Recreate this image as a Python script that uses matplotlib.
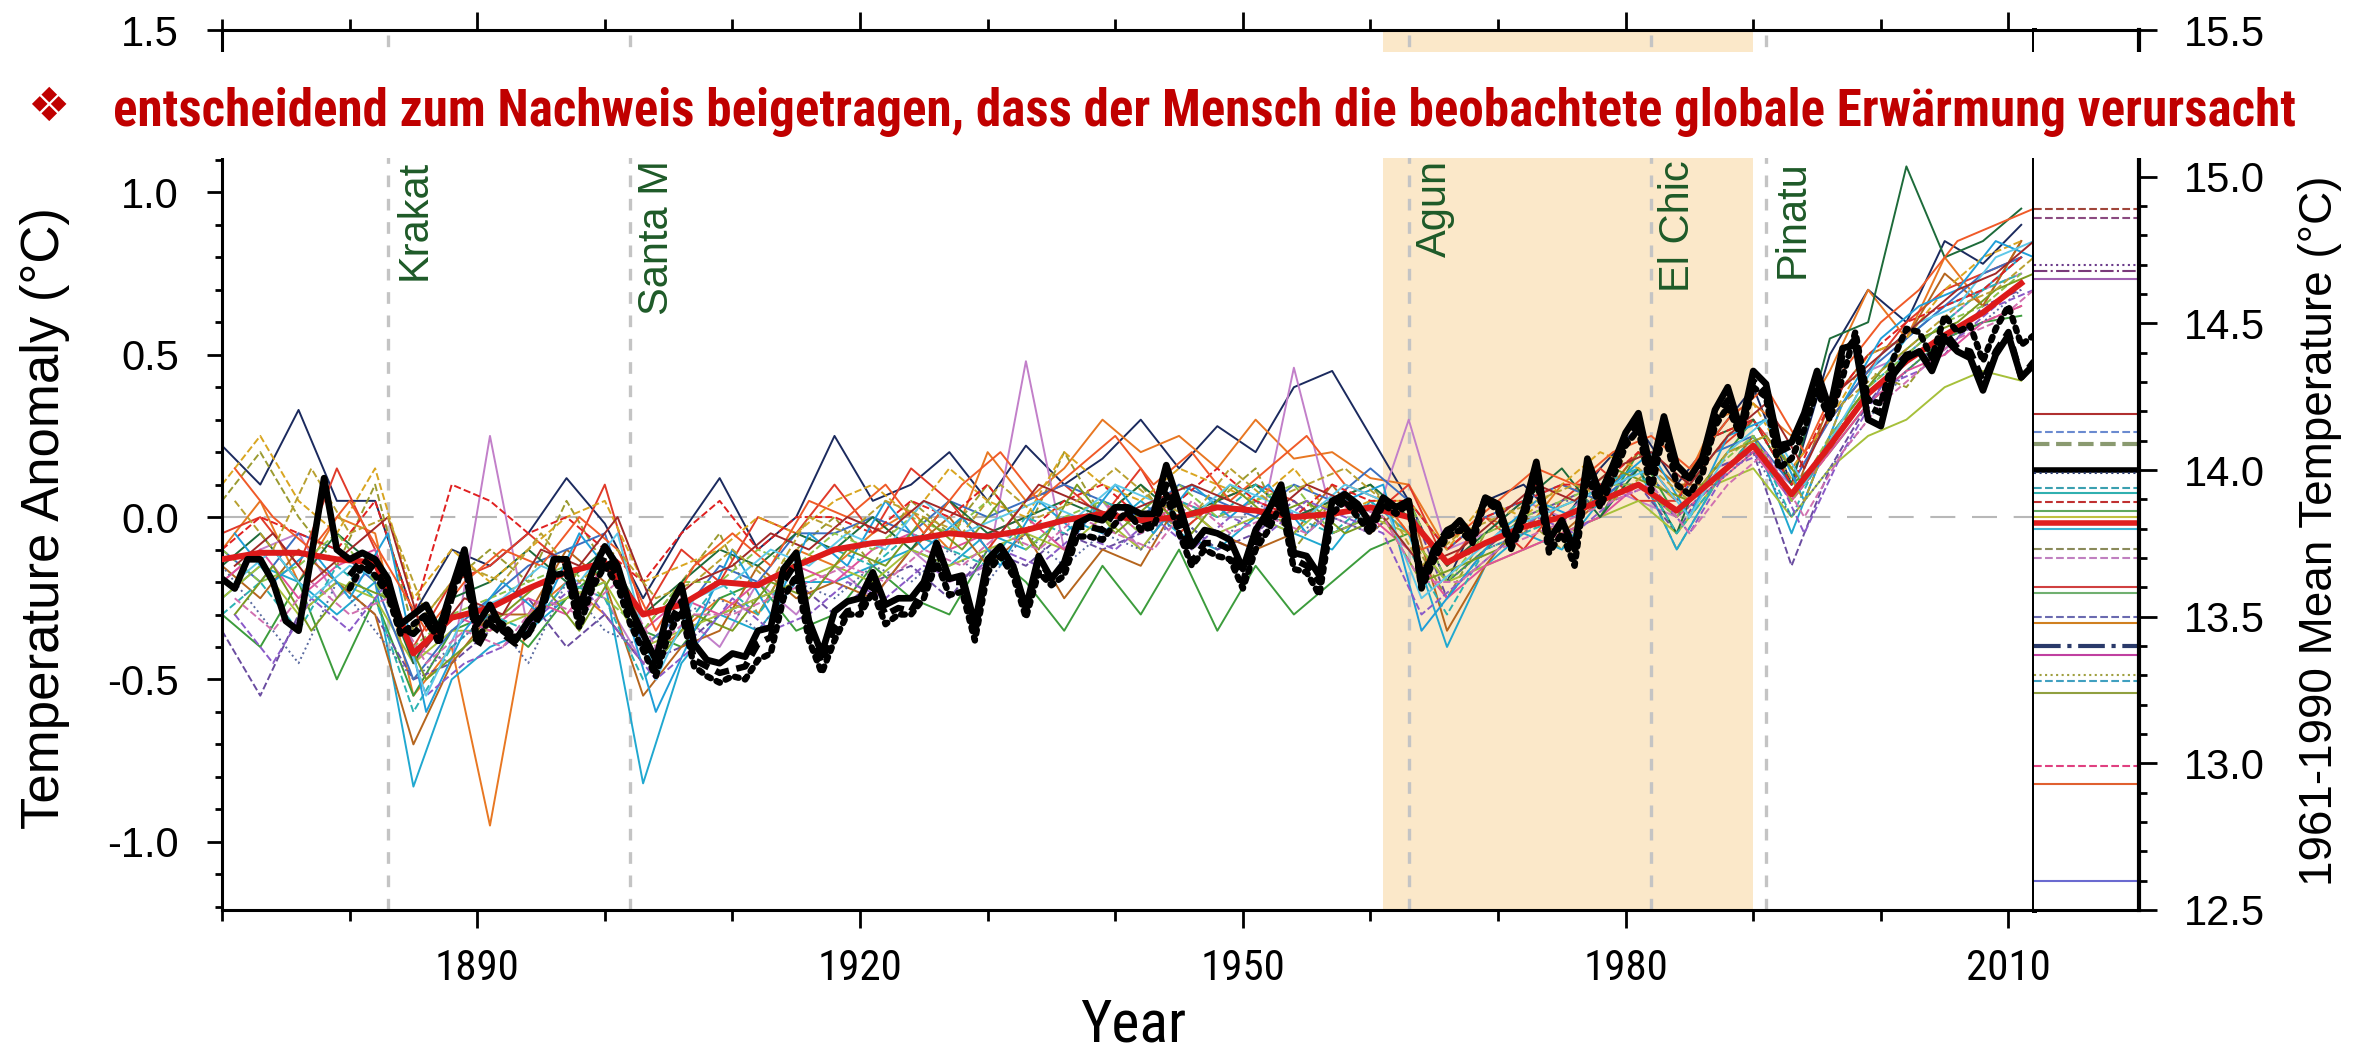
import numpy as np
import matplotlib.pyplot as plt
from matplotlib import font_manager
from matplotlib.font_manager import FontProperties
from matplotlib.patches import Rectangle

plt.rcParams['font.family'] = ['Liberation Sans', 'DejaVu Sans']
plt.rcParams['axes.unicode_minus'] = False


def find_cond(bold):
    # schmale Schrift suchen (Narrow / Condensed), sonst None
    found = []
    for f in font_manager.fontManager.ttflist:
        fn = f.fname.lower()
        if not ('narrow' in fn or 'condensed' in fn):
            continue
        if any(k in fn for k in ('semi', 'extra', 'ultra', 'italic', 'oblique', 'light',
                                 'thin', 'medium', 'black', 'mono', 'serif', 'display')):
            continue
        w = f.weight if isinstance(f.weight, int) else font_manager.weight_dict.get(f.weight, 400)
        if (w >= 600) != bold:
            continue
        rank = 9
        for i, key in enumerate(['liberation', 'notosans-', 'roboto', 'opensans', 'dejavu']):
            if key in fn:
                rank = i
                break
        found.append((rank, f.fname))
    found.sort()
    return found[0][1] if found else None


cond_bold = find_cond(True)
cond_reg = find_cond(False)

# ---- Daten ----
yrs_had = np.arange(1870, 2013)
yrs_sat = np.arange(1880, 2013)
yrs_mod = np.arange(1870, 2012, 3)
yrs_mod2 = np.arange(1871, 2013, 3)

# Beobachtungen (schwarz, durchgezogen)
obs_had = [-0.19, -0.22, -0.13, -0.13, -0.20, -0.32, -0.35, -0.12, 0.12, -0.10,
           -0.13, -0.11, -0.13, -0.19, -0.33, -0.30, -0.27, -0.35, -0.22, -0.10,
           -0.33, -0.27, -0.35, -0.38, -0.32, -0.28, -0.13, -0.13, -0.28, -0.17,
           -0.09, -0.15, -0.28, -0.36, -0.44, -0.28, -0.21, -0.39, -0.44, -0.45,
           -0.42, -0.43, -0.35, -0.34, -0.16, -0.11, -0.32, -0.42, -0.29, -0.26,
           -0.25, -0.17, -0.27, -0.25, -0.25, -0.20, -0.08, -0.19, -0.18, -0.33,
           -0.13, -0.09, -0.15, -0.28, -0.12, -0.19, -0.14, -0.02, 0.00, -0.01,
           0.03, 0.03, 0.01, 0.01, 0.16, 0.04, -0.09, -0.04, -0.05, -0.07,
           -0.16, -0.04, 0.02, 0.10, -0.11, -0.12, -0.18, 0.05, 0.07, 0.04,
           -0.02, 0.06, 0.03, 0.05, -0.21, -0.10, -0.05, -0.01, -0.06, 0.06,
           0.04, -0.08, 0.02, 0.17, -0.07, -0.01, -0.10, 0.18, 0.07, 0.16,
           0.26, 0.32, 0.14, 0.31, 0.16, 0.12, 0.18, 0.33, 0.40, 0.27,
           0.45, 0.41, 0.22, 0.23, 0.32, 0.45, 0.33, 0.52, 0.53, 0.30,
           0.28, 0.44, 0.49, 0.51, 0.45, 0.55, 0.51, 0.49, 0.39, 0.50,
           0.56, 0.43, 0.47]

# Beobachtungen (schwarz, gestrichelt)
obs_noaa = [-0.18, -0.13, -0.16, -0.23, -0.34, -0.36, -0.32, -0.38, -0.25, -0.14,
            -0.40, -0.33, -0.36, -0.39, -0.36, -0.30, -0.16, -0.15, -0.31, -0.21,
            -0.12, -0.18, -0.30, -0.38, -0.48, -0.33, -0.26, -0.44, -0.46, -0.48,
            -0.47, -0.46, -0.39, -0.37, -0.20, -0.14, -0.35, -0.45, -0.34, -0.29,
            -0.28, -0.21, -0.30, -0.28, -0.29, -0.22, -0.10, -0.20, -0.20, -0.36,
            -0.14, -0.10, -0.15, -0.29, -0.13, -0.19, -0.15, -0.03, -0.03, -0.04,
            0.02, 0.01, -0.03, -0.02, 0.10, 0.00, -0.14, -0.08, -0.08, -0.10,
            -0.20, -0.07, -0.01, 0.07, -0.13, -0.15, -0.20, 0.03, 0.07, 0.02,
            -0.03, 0.05, 0.03, 0.05, -0.19, -0.10, -0.04, -0.02, -0.06, 0.06,
            0.03, -0.08, 0.01, 0.15, -0.08, -0.02, -0.11, 0.16, 0.06, 0.14,
            0.24, 0.29, 0.13, 0.29, 0.14, 0.12, 0.17, 0.30, 0.36, 0.26,
            0.42, 0.38, 0.20, 0.22, 0.30, 0.42, 0.31, 0.50, 0.55, 0.34,
            0.32, 0.45, 0.50, 0.51, 0.46, 0.57, 0.52, 0.51, 0.42, 0.51,
            0.57, 0.43, 0.48]

# Beobachtungen (schwarz, gepunktet)
obs_giss = [-0.22, -0.15, -0.18, -0.24, -0.36, -0.33, -0.30, -0.39, -0.24, -0.13,
            -0.38, -0.31, -0.33, -0.37, -0.36, -0.29, -0.18, -0.17, -0.34, -0.22,
            -0.15, -0.21, -0.33, -0.41, -0.49, -0.36, -0.29, -0.46, -0.49, -0.51,
            -0.49, -0.50, -0.44, -0.42, -0.25, -0.18, -0.38, -0.48, -0.38, -0.30,
            -0.30, -0.23, -0.33, -0.30, -0.30, -0.25, -0.14, -0.24, -0.23, -0.38,
            -0.17, -0.12, -0.18, -0.31, -0.17, -0.21, -0.18, -0.06, -0.06, -0.07,
            -0.02, 0.02, -0.04, -0.03, 0.07, -0.05, -0.15, -0.10, -0.12, -0.13,
            -0.22, -0.10, -0.04, 0.04, -0.16, -0.17, -0.24, 0.01, 0.05, 0.00,
            -0.05, 0.04, 0.01, 0.04, -0.22, -0.13, -0.06, -0.04, -0.08, 0.05,
            0.02, -0.10, -0.01, 0.13, -0.11, -0.05, -0.15, 0.13, 0.03, 0.12,
            0.22, 0.27, 0.08, 0.27, 0.10, 0.07, 0.13, 0.28, 0.34, 0.25,
            0.40, 0.37, 0.15, 0.18, 0.27, 0.39, 0.30, 0.43, 0.57, 0.36,
            0.35, 0.49, 0.58, 0.57, 0.49, 0.62, 0.57, 0.59, 0.48, 0.58,
            0.65, 0.53, 0.56]

# Multi-Modell-Mittel (rot, dick)
mmm = [-0.13, -0.11, -0.11, -0.13, -0.14, -0.42, -0.31, -0.28,
       -0.22, -0.17, -0.14, -0.30, -0.27, -0.20, -0.21, -0.15,
       -0.10, -0.08, -0.07, -0.05, -0.06, -0.04, -0.01, 0.01,
       -0.01, 0.00, 0.03, 0.02, 0.00, 0.01, 0.03, 0.00,
       -0.14, -0.08, -0.03, 0.00, 0.05, 0.10, 0.02, 0.12,
       0.22, 0.07, 0.22, 0.38, 0.48, 0.56, 0.63, 0.72]

# einzelne Modelle (Raster 1870, 1873, ...)
m01 = [0.22, 0.10, 0.33, 0.05, 0.05, -0.30, -0.10, -0.15,
       -0.05, 0.12, -0.02, -0.25, -0.05, 0.12, -0.10, 0.00,
       0.25, 0.05, 0.10, 0.20, 0.05, 0.22, 0.10, 0.18,
       0.30, 0.15, 0.28, 0.20, 0.40, 0.45, 0.25, 0.05,
       -0.20, 0.05, 0.10, -0.02, 0.15, 0.28, 0.10, 0.25,
       0.40, 0.10, 0.50, 0.70, 0.60, 0.85, 0.78, 0.90]
m02 = [-0.10, 0.05, -0.20, 0.00, -0.05, -0.55, -0.40, -0.95,
       -0.30, -0.20, -0.30, -0.45, -0.35, -0.25, -0.30, -0.10,
       -0.15, -0.05, 0.02, -0.10, 0.20, 0.05, 0.15, 0.30,
       0.20, 0.25, 0.15, 0.30, 0.18, 0.20, 0.12, 0.10,
       -0.10, 0.00, -0.05, 0.10, 0.05, 0.20, 0.05, 0.30,
       0.35, 0.25, 0.45, 0.70, 0.55, 0.80, 0.65, 0.85]
m03 = [0.05, 0.20, 0.00, -0.15, 0.10, -0.35, -0.20, -0.10,
       -0.20, 0.05, -0.15, -0.35, -0.20, -0.05, -0.30, -0.10,
       0.00, -0.15, 0.05, -0.05, 0.10, -0.05, 0.20, 0.00,
       0.10, -0.05, 0.05, 0.15, -0.10, 0.05, 0.10, -0.05,
       -0.25, -0.05, 0.00, -0.10, 0.10, 0.15, -0.10, 0.10,
       0.25, 0.05, 0.20, 0.45, 0.40, 0.55, 0.60, 0.65]
m04 = [-0.20, -0.10, -0.05, -0.25, -0.15, -0.40, -0.45, 0.25,
       -0.35, -0.20, -0.25, -0.45, -0.30, -0.40, -0.20, -0.30,
       -0.15, -0.25, -0.10, -0.20, -0.15, 0.48, -0.10, 0.05,
       -0.10, 0.05, -0.05, -0.10, 0.46, 0.00, -0.05, 0.30,
       -0.10, -0.05, 0.05, 0.00, 0.10, 0.05, 0.00, 0.15,
       0.20, 0.10, 0.30, 0.45, 0.50, 0.60, 0.70, 0.75]
m05 = [-0.25, -0.15, -0.20, -0.30, -0.20, -0.83, -0.50, -0.40,
       -0.35, -0.25, -0.20, -0.82, -0.45, -0.30, -0.35, -0.20,
       -0.20, -0.15, -0.10, -0.15, -0.05, -0.10, 0.00, -0.05,
       0.05, -0.05, -0.10, 0.00, -0.05, -0.10, 0.05, -0.05,
       -0.40, -0.15, -0.05, -0.10, 0.05, 0.15, -0.10, 0.10,
       0.25, -0.05, 0.25, 0.40, 0.55, 0.65, 0.70, 0.80]
m06 = [-0.30, -0.40, -0.20, -0.50, -0.25, -0.55, -0.35, -0.30,
       -0.40, -0.25, -0.15, -0.35, -0.40, -0.25, -0.20, -0.35,
       -0.30, -0.15, -0.25, -0.30, -0.10, -0.20, -0.35, -0.15,
       -0.30, -0.10, -0.35, -0.15, -0.30, -0.20, -0.10, -0.05,
       -0.20, -0.10, 0.00, -0.05, 0.00, 0.20, 0.00, 0.15,
       0.30, 0.10, 0.20, 0.35, 0.45, 0.55, 0.60, 0.62]
m07 = [-0.05, 0.00, -0.15, 0.15, -0.10, -0.40, -0.20, -0.15,
       -0.05, -0.15, 0.10, -0.30, -0.10, -0.20, 0.00, -0.05,
       0.10, -0.05, 0.15, 0.05, -0.10, 0.05, 0.10, 0.00,
       0.15, -0.05, 0.05, 0.10, 0.05, -0.05, 0.00, 0.10,
       -0.15, 0.00, -0.10, 0.05, 0.15, 0.05, 0.05, 0.20,
       0.30, 0.15, 0.30, 0.45, 0.60, 0.70, 0.75, 0.80]
m08 = [-0.35, -0.55, -0.30, -0.20, -0.30, -0.50, -0.45, -0.35,
       -0.25, -0.40, -0.30, -0.45, -0.40, -0.30, -0.25, -0.20,
       -0.30, -0.20, -0.15, -0.25, -0.10, -0.15, -0.05, -0.10,
       -0.05, 0.00, -0.10, -0.05, 0.05, -0.05, 0.00, 0.05,
       -0.25, -0.10, 0.00, 0.05, 0.10, 0.10, -0.05, 0.15,
       0.20, -0.15, 0.15, 0.35, 0.50, 0.50, 0.65, 0.70]
m09 = [-0.15, -0.25, -0.10, -0.20, -0.30, -0.70, -0.45, -0.30,
       -0.30, -0.10, -0.20, -0.55, -0.40, -0.35, -0.15, -0.25,
       -0.20, -0.25, -0.10, 0.00, -0.15, -0.05, -0.25, -0.10,
       -0.15, 0.05, -0.05, -0.10, -0.05, 0.10, -0.05, 0.05,
       -0.35, -0.15, 0.00, -0.05, 0.05, 0.20, 0.10, 0.10,
       0.25, 0.05, 0.35, 0.50, 0.55, 0.75, 0.65, 0.85]
m10 = [-0.25, -0.15, -0.30, -0.20, -0.25, -0.45, -0.35, -0.35,
       -0.30, -0.25, -0.20, -0.40, -0.35, -0.30, -0.25, -0.20,
       -0.15, -0.20, -0.10, -0.15, -0.10, -0.05, -0.10, 0.00,
       -0.10, 0.05, -0.05, 0.00, -0.05, 0.05, 0.00, -0.05,
       -0.20, -0.15, -0.10, -0.05, 0.00, 0.05, -0.05, 0.10,
       0.15, 0.00, 0.15, 0.25, 0.30, 0.40, 0.45, 0.42]
m11 = [-0.10, -0.20, -0.05, -0.10, -0.20, -0.50, -0.35, -0.25,
       -0.15, -0.10, -0.05, -0.40, -0.30, -0.15, -0.20, -0.05,
       -0.05, 0.00, -0.05, 0.05, 0.00, 0.05, 0.10, 0.05,
       0.00, 0.10, 0.05, 0.00, 0.10, 0.05, 0.15, 0.05,
       -0.10, 0.00, 0.05, 0.10, 0.05, 0.15, 0.05, 0.20,
       0.25, 0.10, 0.30, 0.45, 0.55, 0.65, 0.75, 0.80]
m12 = [-0.20, -0.10, -0.25, -0.15, -0.10, -0.45, -0.30, -0.35,
       -0.25, -0.30, -0.15, -0.35, -0.25, -0.30, -0.20, -0.15,
       -0.20, -0.10, -0.05, -0.10, -0.05, 0.00, -0.10, 0.05,
       -0.05, 0.05, 0.00, 0.05, 0.00, 0.05, 0.00, -0.10,
       -0.25, -0.15, -0.10, -0.05, 0.00, 0.10, 0.00, 0.10,
       0.20, 0.05, 0.20, 0.35, 0.45, 0.50, 0.60, 0.65]
m13 = [-0.15, -0.05, -0.20, -0.05, -0.15, -0.45, -0.25, -0.20,
       -0.10, -0.20, -0.10, -0.30, -0.20, -0.10, -0.15, -0.05,
       -0.10, 0.00, -0.10, 0.05, -0.05, 0.00, 0.05, 0.00,
       0.10, 0.00, 0.05, 0.10, 0.00, 0.05, 0.10, 0.00,
       -0.15, -0.05, 0.05, 0.15, 0.00, 0.15, -0.05, 0.25,
       0.30, 0.10, 0.55, 0.60, 1.08, 0.80, 0.85, 0.95]
m14 = [-0.30, -0.20, -0.35, -0.15, -0.25, -0.60, -0.40, -0.30,
       -0.35, -0.20, -0.25, -0.50, -0.35, -0.20, -0.30, -0.15,
       -0.10, -0.15, -0.05, -0.10, -0.15, 0.00, -0.05, 0.05,
       0.00, 0.05, 0.00, 0.10, 0.00, -0.05, 0.05, -0.10,
       -0.30, -0.10, -0.05, 0.00, 0.10, 0.15, -0.05, 0.10,
       0.25, 0.00, 0.25, 0.40, 0.50, 0.60, 0.70, 0.75]
m15 = [0.10, 0.25, 0.05, -0.05, 0.15, -0.25, -0.10, -0.20,
       -0.10, 0.00, 0.05, -0.20, -0.15, -0.10, 0.00, -0.05,
       0.05, 0.10, 0.00, 0.15, 0.05, 0.00, 0.20, 0.10,
       0.05, 0.15, 0.10, 0.05, 0.15, 0.00, 0.05, 0.05,
       -0.10, 0.05, 0.00, 0.10, 0.20, 0.15, 0.05, 0.20,
       0.35, 0.15, 0.30, 0.50, 0.55, 0.70, 0.80, 0.85]
m16 = [-0.10, 0.00, -0.05, -0.10, 0.05, -0.30, 0.10, 0.05,
       -0.05, 0.00, -0.10, -0.20, -0.05, 0.05, -0.10, 0.00,
       0.00, -0.05, 0.05, 0.00, 0.10, -0.05, 0.05, 0.10,
       0.00, 0.05, 0.15, 0.05, 0.00, 0.10, 0.05, 0.05,
       -0.10, 0.00, 0.05, 0.10, 0.10, 0.20, 0.05, 0.25,
       0.30, 0.10, 0.35, 0.50, 0.60, 0.65, 0.70, 0.80]
m17 = [-0.15, -0.30, -0.45, -0.20, -0.35, -0.50, -0.40, -0.30,
       -0.45, -0.20, -0.35, -0.40, -0.30, -0.25, -0.35, -0.20,
       -0.25, -0.15, -0.20, -0.10, -0.20, -0.05, -0.15, -0.05,
       -0.10, 0.00, -0.10, 0.05, -0.05, 0.00, -0.05, 0.05,
       -0.20, -0.10, -0.05, 0.05, 0.05, 0.10, 0.00, 0.10,
       0.20, 0.00, 0.15, 0.30, 0.45, 0.55, 0.60, 0.70]
m18 = [-0.10, -0.20, -0.15, -0.05, -0.20, -0.40, -0.30, -0.25,
       -0.20, -0.15, -0.25, -0.35, -0.20, -0.20, -0.10, -0.15,
       -0.05, -0.10, 0.00, -0.05, 0.05, -0.10, 0.00, 0.05,
       -0.05, 0.10, 0.00, 0.05, 0.10, -0.05, 0.00, 0.05,
       -0.20, -0.05, 0.00, 0.05, 0.10, 0.10, 0.00, 0.15,
       0.25, 0.05, 0.25, 0.40, 0.50, 0.60, 0.65, 0.75]

# weitere Modelle (Raster 1871, 1874, ...)
n01 = [-0.05, -0.20, -0.10, -0.25, -0.05, -0.60, -0.35, -0.20,
       -0.30, -0.05, -0.20, -0.60, -0.35, -0.10, -0.30, -0.05,
       -0.15, 0.05, -0.10, 0.00, -0.15, 0.05, -0.05, 0.10,
       -0.05, 0.10, 0.00, 0.10, -0.05, 0.05, 0.10, -0.35,
       -0.20, -0.05, 0.05, 0.00, 0.10, 0.20, 0.00, 0.25,
       0.30, 0.05, 0.35, 0.55, 0.65, 0.70, 0.85, 0.80]
n02 = [-0.30, -0.15, -0.35, -0.20, -0.25, -0.50, -0.40, -0.30,
       -0.20, -0.35, -0.15, -0.45, -0.30, -0.35, -0.20, -0.25,
       -0.10, -0.15, 0.00, -0.10, 0.05, -0.10, 0.10, -0.05,
       0.05, -0.05, 0.10, 0.00, 0.05, -0.05, 0.00, -0.20,
       -0.15, -0.10, 0.00, 0.05, 0.15, 0.10, 0.05, 0.20,
       0.25, 0.10, 0.30, 0.45, 0.55, 0.60, 0.70, 0.75]
n03 = [0.15, 0.00, -0.10, 0.05, -0.15, -0.35, -0.20, -0.10,
       -0.15, 0.00, -0.10, -0.35, -0.15, -0.05, -0.15, 0.05,
       0.00, 0.10, -0.05, 0.10, 0.20, 0.05, 0.15, 0.25,
       0.10, 0.20, 0.05, 0.15, 0.25, 0.10, 0.05, -0.10,
       -0.05, 0.05, 0.15, 0.10, 0.20, 0.25, 0.15, 0.30,
       0.40, 0.20, 0.45, 0.60, 0.70, 0.85, 0.90, 0.95]
n04 = [-0.30, -0.45, -0.25, -0.35, -0.20, -0.55, -0.45, -0.40,
       -0.30, -0.20, -0.35, -0.50, -0.40, -0.25, -0.35, -0.30,
       -0.20, -0.25, -0.15, -0.20, -0.10, -0.15, -0.05, -0.10,
       0.00, -0.10, 0.00, -0.05, 0.05, 0.00, -0.05, -0.30,
       -0.20, -0.10, 0.00, -0.05, 0.05, 0.10, -0.05, 0.15,
       0.20, -0.05, 0.20, 0.40, 0.45, 0.55, 0.65, 0.70]
n05 = [-0.20, -0.10, -0.25, -0.15, -0.20, -0.55, -0.30, -0.25,
       -0.15, -0.20, -0.05, -0.50, -0.25, -0.20, -0.10, -0.15,
       -0.05, -0.10, 0.05, -0.05, 0.00, 0.05, 0.00, 0.10,
       0.05, 0.00, 0.10, 0.05, 0.00, 0.10, 0.05, -0.25,
       -0.15, -0.05, 0.00, 0.05, 0.10, 0.15, 0.00, 0.20,
       0.30, 0.10, 0.30, 0.50, 0.60, 0.65, 0.80, 0.85]
n06 = [-0.15, -0.05, -0.20, -0.10, 0.00, -0.40, -0.25, -0.30,
       -0.10, -0.15, 0.00, -0.30, -0.20, -0.15, -0.05, -0.10,
       0.00, -0.05, 0.05, 0.00, -0.05, 0.10, 0.05, 0.00,
       0.05, 0.10, 0.05, 0.00, 0.10, 0.05, 0.00, -0.15,
       -0.10, 0.00, 0.10, 0.05, 0.15, 0.20, 0.10, 0.25,
       0.35, 0.15, 0.40, 0.50, 0.60, 0.70, 0.75, 0.85]
n07 = [0.05, -0.10, 0.15, -0.05, 0.00, -0.30, -0.15, -0.20,
       -0.05, -0.20, -0.10, -0.25, -0.20, -0.10, -0.20, 0.00,
       -0.05, 0.05, 0.00, -0.05, 0.10, 0.00, 0.05, 0.15,
       0.05, 0.00, 0.15, 0.05, 0.10, 0.15, 0.05, -0.15,
       -0.05, 0.00, 0.05, 0.10, 0.05, 0.15, 0.05, 0.20,
       0.25, 0.05, 0.35, 0.45, 0.55, 0.65, 0.70, 0.80]
n08 = [-0.25, -0.35, -0.20, -0.30, -0.25, -0.45, -0.35, -0.40,
       -0.25, -0.30, -0.20, -0.40, -0.30, -0.30, -0.25, -0.20,
       -0.15, -0.20, -0.10, -0.15, -0.05, -0.10, 0.00, -0.05,
       -0.10, 0.05, -0.05, 0.00, -0.05, 0.05, 0.00, -0.20,
       -0.20, -0.10, -0.05, 0.00, 0.05, 0.10, -0.05, 0.10,
       0.20, 0.00, 0.20, 0.35, 0.45, 0.55, 0.60, 0.70]

models = [m01, m02, m03, m04, m05, m06, m07, m08, m09,
          m10, m11, m12, m13, m14, m15, m16, m17, m18]
mod_colors = ['#1b2a5e', '#e87722', '#9a9a30', '#c27fc9', '#20a8d0', '#3c9c3c',
              '#e03a2a', '#6a4ca0', '#b5651d', '#a6c03a', '#3b6fc0', '#e0509a',
              '#1d6b3a', '#2ab3b3', '#d9a520', '#e02020', '#5a6aa0', '#8bc34a']
mod_styles = ['-', '-', '--', '-', '-', '-', '-', '--', '-',
              '-', '-', '-', '-', '--', '--', '--', ':', '--']
models2 = [n01, n02, n03, n04, n05, n06, n07, n08]
mod2_colors = ['#1f9ed8', '#7a9a20', '#f05a28', '#8a5ac8', '#5ec8e8', '#a02828',
               '#b8a030', '#d070b0']
mod2_styles = ['-', '-', '-', '--', '-', '-', '--', '--']

# Vulkane (sichtbarer Teil der Namen unter dem weissen Balken)
volc_years = [1883, 1902, 1963, 1982, 1991]
volc_names = ['Krakat', 'Santa M', 'Agun', 'El Chic', 'Pinatu']

# rechtes Feld: absolute Mitteltemperatur 1961-1990
abs_temp = [14.89, 14.86, 14.70, 14.68, 14.65, 14.19, 14.13, 14.09, 14.00, 13.99,
            13.94, 13.92, 13.89, 13.86, 13.84, 13.82, 13.80, 13.73, 13.70, 13.60,
            13.58, 13.50, 13.48, 13.40, 13.37, 13.30, 13.28, 13.24, 12.99, 12.93, 12.60]
abs_colors = ['#a0453a', '#8a4a80', '#6a3a8a', '#7a3a7a', '#a060b0', '#b03030', '#6a8ad0',
              '#8a9a70', 'black', '#2a3a6a', '#3aa0b0', '#30b0b0', '#c03030', '#60a860',
              '#c0c040', '#e02020', '#40b0d0', '#8a8a5a', '#c080c0', '#d04040', '#70b070',
              '#6a6ab0', '#d08020', '#2a3a6a', '#c040a0', '#a0a040', '#40a0c0', '#90a040',
              '#e04080', '#e06030', '#6a6ad0']
abs_styles = ['--', '--', ':', '-.', '-', '-', '--', '--', '-', ':', '--', '-', '--', '-',
              '-', '-', '-', '--', '--', '-', '-', '--', '-', '-.', '-', ':', '--', '-',
              '--', '-', '-']
abs_widths = [1.5, 1.5, 1.5, 1.5, 1.5, 1.5, 1.5, 3.0, 4.0, 1.5, 1.5, 1.5, 1.5, 1.5,
              1.5, 4.0, 1.5, 1.5, 1.5, 1.5, 1.5, 1.5, 1.5, 3.0, 1.5, 1.5, 1.5, 1.5,
              1.5, 1.5, 1.5]

title = 'entscheidend zum Nachweis beigetragen, dass der Mensch die beobachtete globale Erwärmung verursacht'

# ---- Abbildung ----
W, H = 2354, 1050
fig = plt.figure(figsize=(W / 100, H / 100), dpi=100)
fig.patch.set_facecolor('white')
ax = fig.add_axes([222 / W, 1 - 910 / H, (2034 - 222) / W, 880 / H])
axr = fig.add_axes([2034 / W, 1 - 910 / H, (2139 - 2034) / W, 880 / H])

ax.set_xlim(1870, 2012)
ax.set_ylim(-1.21, 1.5)
ax.axvspan(1961, 1990, color='#fbe8c9', lw=0, zorder=0)
ax.axhline(0, color='#b8b8b8', lw=1.5, dashes=(12, 8), zorder=1)
for vy in volc_years:
    ax.axvline(vy, color='#c4c4c4', lw=2.4, linestyle=(0, (3.5, 3.5)), zorder=1)

for vals, c, ls in zip(models, mod_colors, mod_styles):
    ax.plot(yrs_mod, vals, color=c, ls=ls, lw=1.4, zorder=2)
for vals, c, ls in zip(models2, mod2_colors, mod2_styles):
    ax.plot(yrs_mod2, vals, color=c, ls=ls, lw=1.4, zorder=2)

ax.plot(yrs_mod, mmm, color='#dd1a1a', lw=4.3, zorder=4, solid_joinstyle='round')
ax.plot(yrs_sat, obs_giss, color='black', lw=4.6, linestyle=(0, (0.6, 1.0)),
        dash_capstyle='round', zorder=5)
ax.plot(yrs_sat, obs_noaa, color='black', lw=4.6, linestyle=(0, (2.2, 1.2)), zorder=5)
ax.plot(yrs_had, obs_had, color='black', lw=4.8, zorder=6, solid_joinstyle='round')

for vy, name in zip(volc_years, volc_names):
    ax.text(vy + 0.5, 1.10, name, rotation=90, ha='left', va='top',
            color='#1e5a28', fontsize=30, zorder=7)

# Achsen
for side in ['left', 'bottom', 'top']:
    ax.spines[side].set_linewidth(2.2)
ax.spines['right'].set_linewidth(3.6)
ax.set_xticks([1890, 1920, 1950, 1980, 2010])
ax.set_xticks(np.arange(1870, 2013, 10), minor=True)
ax.set_yticks([-1.0, -0.5, 0.0, 0.5, 1.0, 1.5])
ax.set_yticks(np.arange(-1.2, 1.45, 0.1), minor=True)
ax.set_yticklabels(['%.1f' % v for v in [-1.0, -0.5, 0.0, 0.5, 1.0, 1.5]])
ax.tick_params(axis='x', which='both', top=True, direction='out', width=2)
ax.tick_params(axis='x', which='major', length=13, pad=14, labelsize=30)
ax.tick_params(axis='x', which='minor', length=8)
ax.tick_params(axis='y', which='both', direction='out', width=2)
ax.tick_params(axis='y', which='major', length=11, pad=20, labelsize=30)
ax.tick_params(axis='y', which='minor', length=5)
if cond_reg:
    for lab in ax.get_xticklabels():
        lab.set_fontproperties(FontProperties(fname=cond_reg, size=31))

axr.set_xlim(0, 1)
axr.set_ylim(12.5, 15.5)
for t, c, ls, w in zip(abs_temp, abs_colors, abs_styles, abs_widths):
    axr.plot([0, 1], [t, t], color=c, ls=ls, lw=w)
axr.set_xticks([])
axr.yaxis.tick_right()
axr.set_yticks([12.5, 13.0, 13.5, 14.0, 14.5, 15.0, 15.5])
axr.set_yticks(np.arange(12.5, 15.55, 0.1), minor=True)
axr.set_yticklabels(['%.1f' % v for v in [12.5, 13.0, 13.5, 14.0, 14.5, 15.0, 15.5]])
axr.tick_params(axis='y', which='both', direction='out', width=2)
axr.tick_params(axis='y', which='major', length=13, pad=19, labelsize=30)
axr.tick_params(axis='y', which='minor', length=6)
axr.spines['left'].set_visible(False)
axr.spines['right'].set_linewidth(3.0)
axr.spines['top'].set_linewidth(2.2)
axr.spines['bottom'].set_linewidth(2.2)

# Beschriftungen
fig.text(45 / W, 1 - 518 / H, 'Temperature Anomaly (°C)', rotation=90,
         ha='center', va='center', fontsize=38)
if cond_reg:
    fig.text(1133 / W, 1 - 1025 / H, 'Year', ha='center', va='center',
             fontproperties=FontProperties(fname=cond_reg, size=43))
else:
    fig.text(1133 / W, 1 - 1025 / H, 'Year', ha='center', va='center', fontsize=38)
fig.text(2320 / W, 1 - 886 / H, '1961-1990 Mean Temperature (°C)', rotation=90,
         ha='center', va='bottom', fontsize=33)

# weisser Balken mit rotem Text
fig.add_artist(Rectangle((0, 1 - 158 / H), 1, 106 / H, transform=fig.transFigure,
                         facecolor='white', edgecolor='none', zorder=10))
fig.text(48 / W, 1 - 108 / H, '❖', ha='center', va='center', fontsize=34,
         color='#c00000', family='DejaVu Sans', zorder=11)
if cond_bold:
    fp = FontProperties(fname=cond_bold, size=34)
    tt = fig.text(113 / W, 1 - 112 / H, title, ha='left', va='center', fontproperties=fp,
                  color='#c00000', zorder=11)
else:
    tt = fig.text(113 / W, 1 - 112 / H, title, ha='left', va='center', fontsize=34,
                  weight='bold', color='#c00000', zorder=11)
fig.canvas.draw()
wt = tt.get_window_extent().width
tt.set_fontsize(tt.get_fontsize() * 2179 / wt)

fig.savefig('out.png', dpi=100)
